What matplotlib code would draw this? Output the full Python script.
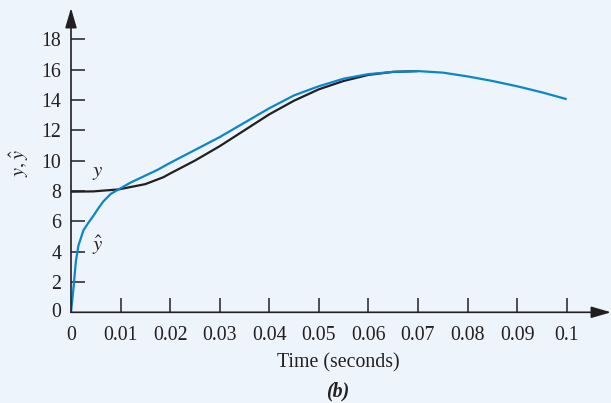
import matplotlib
matplotlib.use('Agg')
import matplotlib.pyplot as plt

# values
t_hat = [0, 0.0005, 0.001, 0.0015, 0.0025, 0.0035, 0.0045, 0.0055, 0.0065, 0.008,
         0.0096, 0.012, 0.0146, 0.0175, 0.02, 0.025, 0.03, 0.035, 0.04, 0.045,
         0.05, 0.055, 0.06, 0.065, 0.07, 0.075, 0.08, 0.085, 0.09, 0.095, 0.1]
y_hat = [0, 1.6, 3.4, 4.4, 5.4, 5.9, 6.35, 6.85, 7.3, 7.8,
         8.1, 8.55, 8.95, 9.4, 9.85, 10.7, 11.55, 12.5, 13.45, 14.3,
         14.9, 15.4, 15.7, 15.85, 15.9, 15.8, 15.55, 15.25, 14.9, 14.5, 14.05]

t_y = [0, 0.0045, 0.0096, 0.0119, 0.015, 0.0186, 0.02, 0.025, 0.03, 0.035,
       0.04, 0.045, 0.05, 0.055, 0.06, 0.065, 0.07]
y_y = [7.95, 7.97, 8.1, 8.25, 8.45, 8.9, 9.15, 10.0, 10.95, 12.0,
       13.05, 13.95, 14.7, 15.25, 15.65, 15.85, 15.9]

x_ticks = [0, 0.01, 0.02, 0.03, 0.04, 0.05, 0.06, 0.07, 0.08, 0.09, 0.1]
x_labels = ['0', '0.01', '0.02', '0.03', '0.04', '0.05', '0.06', '0.07', '0.08', '0.09', '0.1']
y_ticks = [0, 2, 4, 6, 8, 10, 12, 14, 16, 18]

bg = '#EEF4FB'
ink = '#231F20'
blue = '#0A86CB'
fs = 14.3

plt.rcParams['font.family'] = ['Liberation Serif', 'DejaVu Serif']
plt.rcParams['mathtext.fontset'] = 'stix'

fig = plt.figure(figsize=(6.11, 4.03), dpi=100, facecolor=bg)
ax = fig.add_axes([71 / 611, 90.7 / 403, 540 / 611, 304.3 / 403])
ax.set_facecolor(bg)

ax.plot(t_y, y_y, color=ink, lw=1.6, solid_capstyle='butt')
ax.plot(t_hat, y_hat, color=blue, lw=1.6, solid_capstyle='butt')

ax.set_xlim(0, 540 / 4957)
ax.set_ylim(0, 304.3 / 15.17)

# axes drawn as arrows
for s in ax.spines.values():
    s.set_visible(False)
arrow = dict(arrowstyle='-|>,head_length=1.2,head_width=0.35', color=ink,
             lw=1.2, mutation_scale=10, shrinkA=0, shrinkB=0)
ax.annotate('', xy=(1, 0), xytext=(0, 0), xycoords='axes fraction',
            arrowprops=arrow, annotation_clip=False)
ax.annotate('', xy=(0, 1), xytext=(0, 0), xycoords='axes fraction',
            arrowprops=arrow, annotation_clip=False)

ax.set_xticks(x_ticks[1:])
ax.set_xticklabels(x_labels[1:])
ax.set_yticks(y_ticks[1:])
ax.tick_params(direction='in', length=10, width=1.1, color=ink, labelcolor=ink,
               labelsize=fs)
ax.tick_params(axis='x', pad=10)
ax.tick_params(axis='y', pad=7)

# zeros at origin
ax.annotate('0', xy=(0, 0), xytext=(0, -10), textcoords='offset points',
            ha='center', va='top', fontsize=fs, color=ink)
ax.annotate('0', xy=(0, 0), xytext=(-7, 0), textcoords='offset points',
            ha='right', va='center', fontsize=fs, color=ink)

ax.text(0.0054, 9.2, '$y$', fontsize=15, color=ink, ha='center', va='center')
ax.text(0.0054, 4.4, r'$\hat{y}$', fontsize=15, color=ink, ha='center', va='center')

fig.text(19 / 611, 1 - 163 / 403, r'$y,\hat{y}$', rotation=90, fontsize=14.5,
         color=ink, ha='center', va='center')
fig.text(338 / 611, 1 - 363 / 403, 'Time (seconds)', fontsize=fs, color=ink,
         ha='center', va='center')
fig.text(338 / 611, 1 - 391 / 403, '(b)', fontsize=fs, color=ink,
         ha='center', va='center', fontweight='bold', fontstyle='italic')

fig.savefig('out.png', dpi=100, facecolor=bg)
